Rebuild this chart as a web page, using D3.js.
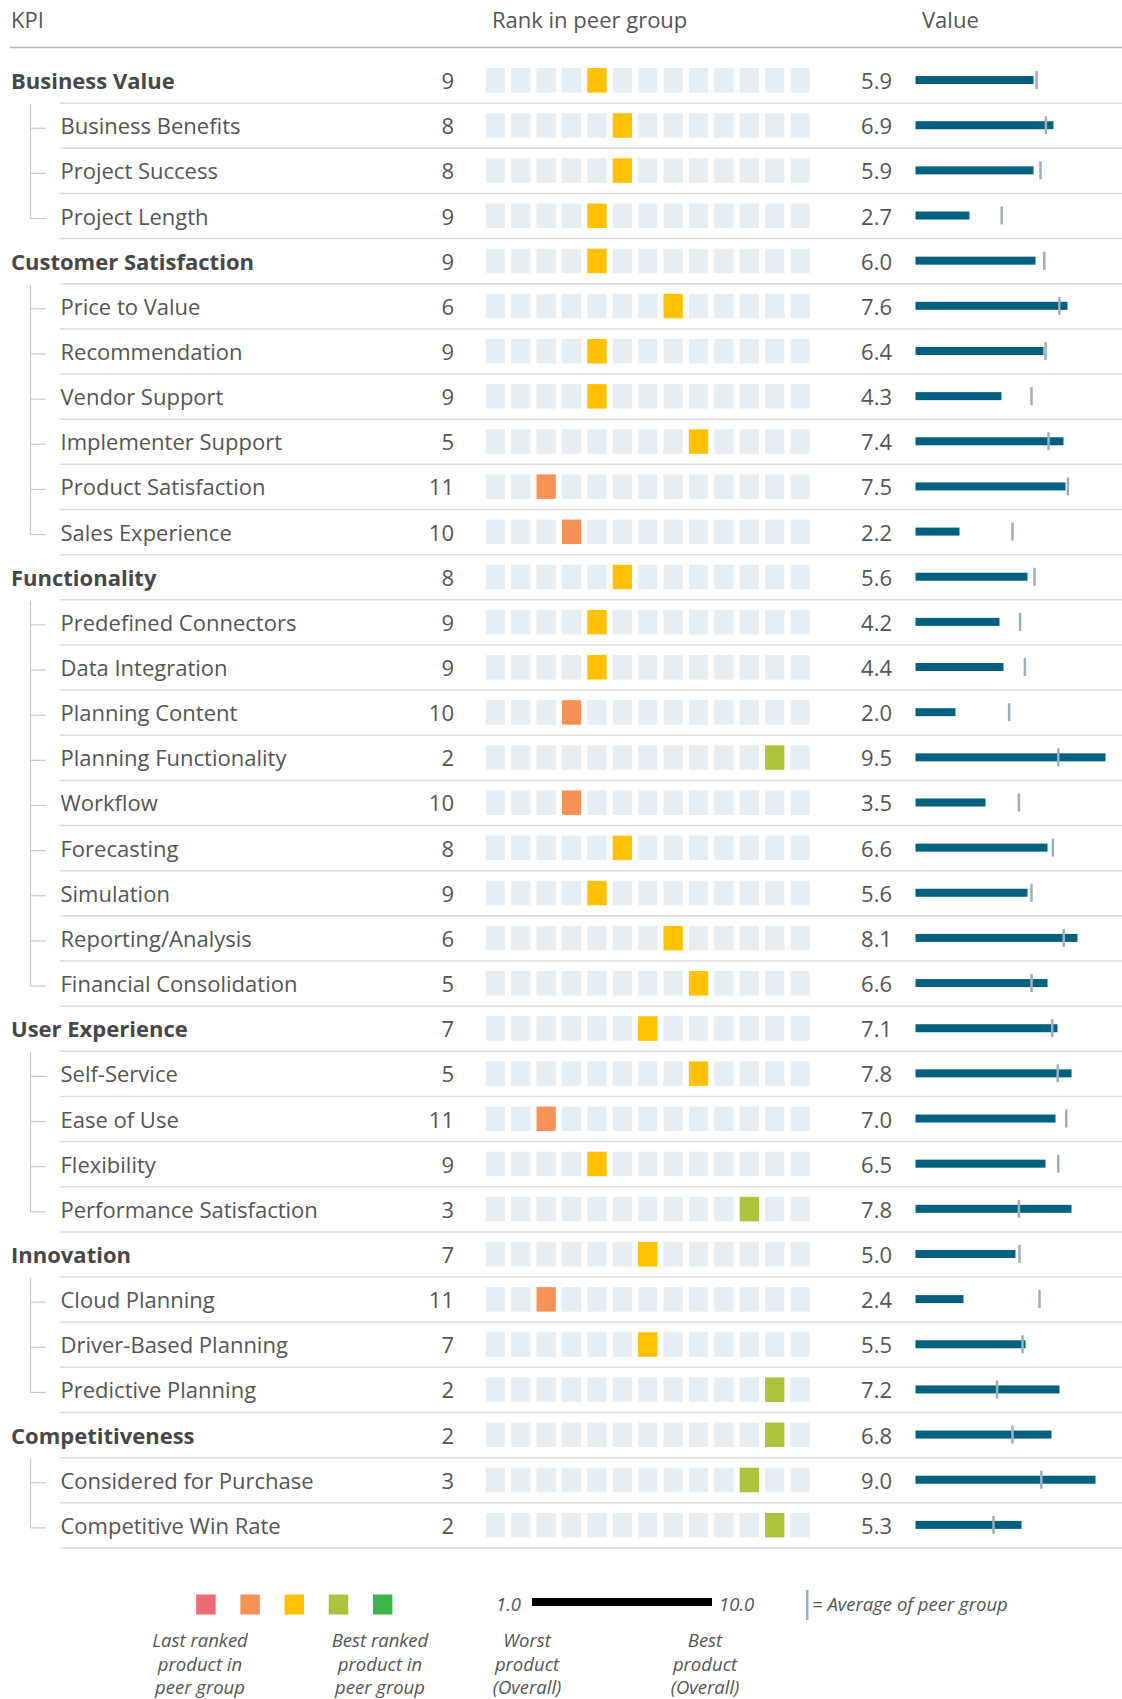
<!DOCTYPE html>
<html>
<head>
<meta charset="utf-8">
<script src="https://cdn.jsdelivr.net/npm/d3@7"></script>
<style>
  body { margin: 0; background: #fff; }
  text { font-family: "Open Sans", sans-serif; fill: #555; }
</style>
</head>
<body>
<div id="chart"></div>
<script>
// KPI rows, top to bottom. level 0 = group, 1 = sub KPI
var labels = ["Business Value", "Business Benefits", "Project Success", "Project Length",
  "Customer Satisfaction", "Price to Value", "Recommendation", "Vendor Support",
  "Implementer Support", "Product Satisfaction", "Sales Experience",
  "Functionality", "Predefined Connectors", "Data Integration", "Planning Content",
  "Planning Functionality", "Workflow", "Forecasting", "Simulation",
  "Reporting/Analysis", "Financial Consolidation",
  "User Experience", "Self-Service", "Ease of Use", "Flexibility", "Performance Satisfaction",
  "Innovation", "Cloud Planning", "Driver-Based Planning", "Predictive Planning",
  "Competitiveness", "Considered for Purchase", "Competitive Win Rate"];
var levels = [0,1,1,1, 0,1,1,1,1,1,1, 0,1,1,1,1,1,1,1,1,1, 0,1,1,1,1, 0,1,1,1, 0,1,1];
var ranks = [9,8,8,9, 9,6,9,9,5,11,10, 8,9,9,10,2,10,8,9,6,5, 7,5,11,9,3, 7,11,7,2, 2,3,2];
var values = [5.9,6.9,5.9,2.7, 6.0,7.6,6.4,4.3,7.4,7.5,2.2, 5.6,4.2,4.4,2.0,9.5,3.5,6.6,5.6,8.1,6.6,
  7.1,7.8,7.0,6.5,7.8, 5.0,2.4,5.5,7.2, 6.8,9.0,5.3];
var peerAvg = [6.05,6.52,6.25,4.31, 6.44,7.19,6.5,5.8,6.65,7.62,4.85, 5.95,5.23,5.47,4.68,7.14,5.17,6.87,5.8,7.41,5.8,
  6.84,7.11,7.54,7.14,5.17, 5.2,6.2,5.35,4.08, 4.85,6.29,3.9];
var peerGroupSize = 13;

var headers = ["KPI", "Rank in peer group", "Value"];
var legendRanks = [13, 11, 7, 3, 1];
var legendRankText = [["Last ranked", "product in", "peer group"], ["Best ranked", "product in", "peer group"]];
var legendValueText = [["Worst", "product", "(Overall)"], ["Best", "product", "(Overall)"]];
var legendScale = [1.0, 10.0];

var width = 1122, height = 1699;
var rowTop = 57.5, rowStep = 45.15;

var svg = d3.select("#chart").append("svg")
  .attr("width", width)
  .attr("height", height);

var rankColor = function(r) {
  if (r <= 1) return "#3db44a";
  if (r <= 4) return "#acc43b";
  if (r <= 9) return "#ffc000";
  if (r <= 11) return "#f79256";
  return "#ef6b73";
};

var rows = labels.map((d, i) => ({
  label: d, level: levels[i], rank: ranks[i], value: values[i], avg: peerAvg[i], i: i
}));

let y = d3.scaleBand()
  .domain(d3.range(rows.length))
  .range([rowTop, rowTop + rows.length * rowStep]);
let yc = i => y(i) + y.bandwidth() / 2;

let sq = d3.scaleBand()
  .domain(d3.range(peerGroupSize))
  .range([485.7, 809.8])
  .paddingInner(0.24);

let x = d3.scaleLinear()
  .domain([0, 10])
  .range([915.5, 1115.5]);

// header
svg.selectAll("text.header")
  .data(headers)
  .enter()
  .append("text")
  .attr("class", "header")
  .attr("x", (d, i) => [11, 492, 922][i])
  .attr("y", 28)
  .style("font-size", "22px")
  .text(d => d);

svg.append("line")
  .attr("x1", 10).attr("x2", width)
  .attr("y1", 47.5).attr("y2", 47.5)
  .style("stroke", "#b5b5b5")
  .style("stroke-width", 1.5);

// row separators
svg.selectAll("line.sep")
  .data(rows)
  .enter()
  .append("line")
  .attr("class", "sep")
  .attr("x1", 60).attr("x2", width)
  .attr("y1", d => y(d.i) + y.bandwidth() + 0.5)
  .attr("y2", d => y(d.i) + y.bandwidth() + 0.5)
  .style("stroke", "#dcdcdc")
  .style("stroke-width", 1.5);

// tree lines
var groups = [];
rows.forEach(d => {
  if (d.level == 0) groups.push({ i: d.i, kids: [] });
  else groups[groups.length - 1].kids.push(d.i);
});

groups.forEach(g => {
  var last = g.kids[g.kids.length - 1];
  svg.append("line")
    .attr("x1", 30.5).attr("x2", 30.5)
    .attr("y1", yc(g.i) + 24)
    .attr("y2", yc(last) + 3)
    .style("stroke", "#c8c8c8")
    .style("stroke-width", 1.2);
  svg.selectAll(null)
    .data(g.kids)
    .enter()
    .append("line")
    .attr("x1", 30.5).attr("x2", 46)
    .attr("y1", k => yc(k) + 3)
    .attr("y2", k => yc(k) + 3)
    .style("stroke", "#c8c8c8")
    .style("stroke-width", 1.2);
});

// labels
svg.selectAll("text.label")
  .data(rows)
  .enter()
  .append("text")
  .attr("class", "label")
  .attr("x", d => d.level == 0 ? 11 : 60.5)
  .attr("y", d => yc(d.i) + 9)
  .style("font-size", "22px")
  .style("font-weight", d => d.level == 0 ? "bold" : "normal")
  .style("fill", d => d.level == 0 ? "#474747" : "#555")
  .text(d => d.label);

// rank numbers
svg.selectAll("text.rank")
  .data(rows)
  .enter()
  .append("text")
  .attr("class", "rank")
  .attr("x", 454)
  .attr("y", d => yc(d.i) + 9)
  .style("font-size", "22px")
  .style("text-anchor", "end")
  .text(d => d.rank);

// rank squares
var cells = [];
rows.forEach(d => d3.range(peerGroupSize).forEach(k => cells.push({ row: d, k: k })));

svg.selectAll("rect.cell")
  .data(cells)
  .enter()
  .append("rect")
  .attr("class", "cell")
  .attr("x", d => sq(d.k))
  .attr("y", d => yc(d.row.i) - 12)
  .attr("width", sq.bandwidth())
  .attr("height", 24.5)
  .style("fill", d => d.k == peerGroupSize - d.row.rank ? rankColor(d.row.rank) : "#e6eef3");

// value numbers
svg.selectAll("text.valueLabel")
  .data(rows)
  .enter()
  .append("text")
  .attr("class", "valueLabel")
  .attr("x", 892)
  .attr("y", d => yc(d.i) + 9)
  .style("font-size", "22px")
  .style("text-anchor", "end")
  .text(d => d3.format(".1f")(d.value));

// value bars
svg.selectAll("rect.bar")
  .data(rows)
  .enter()
  .append("rect")
  .attr("class", "bar")
  .attr("x", x(0))
  .attr("y", d => yc(d.i) - 4)
  .attr("width", d => x(d.value) - x(0))
  .attr("height", 8)
  .style("fill", "#03607f");

// peer average ticks
svg.selectAll("rect.avg")
  .data(rows)
  .enter()
  .append("rect")
  .attr("class", "avg")
  .attr("x", d => x(d.avg) - 1.25)
  .attr("y", d => yc(d.i) - 9)
  .attr("width", 2.5)
  .attr("height", 18)
  .style("fill", "#9eafbb");

// legend
var lg = svg.append("g").attr("class", "legend");

let lsq = d3.scaleBand()
  .domain(d3.range(legendRanks.length))
  .range([196.2, 392.4])
  .paddingInner(0.56);

lg.selectAll("rect")
  .data(legendRanks)
  .enter()
  .append("rect")
  .attr("x", (d, i) => lsq(i))
  .attr("y", 1594.5)
  .attr("width", lsq.bandwidth())
  .attr("height", 20)
  .style("fill", d => rankColor(d));

function multiLine(sel, lines, cx) {
  var t = sel.append("text")
    .attr("x", cx)
    .attr("y", 1647)
    .style("font-size", "18.5px")
    .style("font-style", "italic")
    .style("text-anchor", "middle");
  t.selectAll("tspan")
    .data(lines)
    .enter()
    .append("tspan")
    .attr("x", cx)
    .attr("dy", (d, i) => i == 0 ? 0 : 23.5)
    .text(d => d);
}

let lx = d3.scaleLinear().domain(legendScale).range([532, 712]);

multiLine(lg, legendRankText[0], 200);
multiLine(lg, legendRankText[1], 380);
multiLine(lg, legendValueText[0], lx(1) - 5);
multiLine(lg, legendValueText[1], lx(10) - 7);

lg.append("line")
  .attr("x1", lx(legendScale[0])).attr("x2", lx(legendScale[1]))
  .attr("y1", 1602).attr("y2", 1602)
  .style("stroke", "#000")
  .style("stroke-width", 8);

lg.append("text")
  .attr("x", lx(legendScale[0]) - 11)
  .attr("y", 1611)
  .style("font-size", "18.5px")
  .style("font-style", "italic")
  .style("text-anchor", "end")
  .text(d3.format(".1f")(legendScale[0]));

lg.append("text")
  .attr("x", lx(legendScale[1]) + 7)
  .attr("y", 1611)
  .style("font-size", "18.5px")
  .style("font-style", "italic")
  .text(d3.format(".1f")(legendScale[1]));

lg.append("rect")
  .attr("x", 806)
  .attr("y", 1590)
  .attr("width", 2.5)
  .attr("height", 30)
  .style("fill", "#9eafbb");

lg.append("text")
  .attr("x", 812)
  .attr("y", 1611)
  .style("font-size", "18.5px")
  .style("font-style", "italic")
  .text("= Average of peer group");
</script>
</body>
</html>
